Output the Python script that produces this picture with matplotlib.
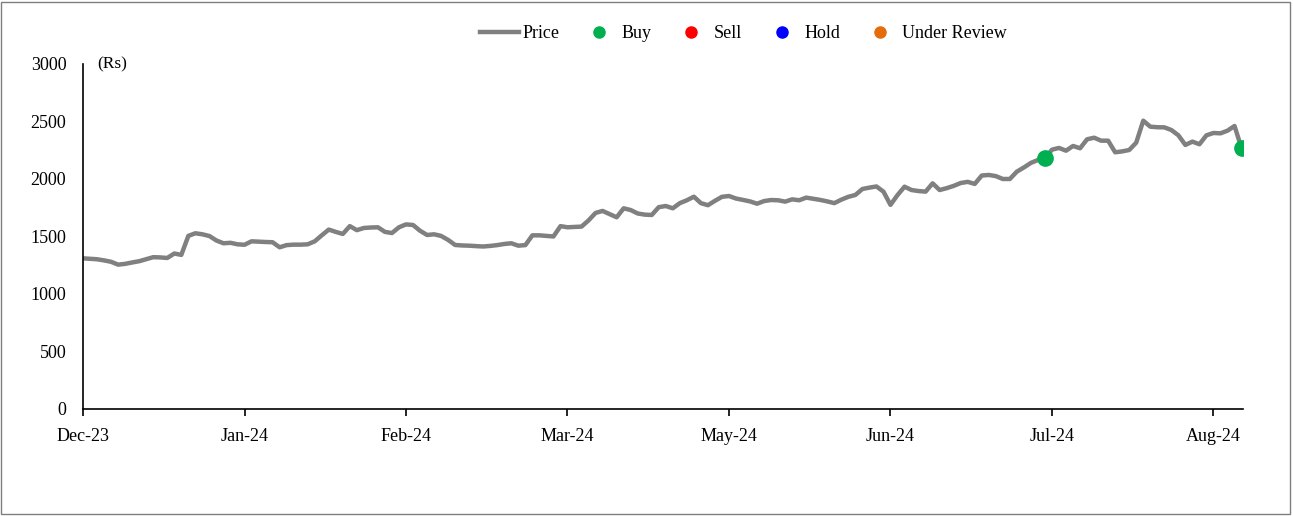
import matplotlib
matplotlib.use("Agg")
import matplotlib.pyplot as plt
from matplotlib.lines import Line2D
from matplotlib.patches import Rectangle

# daily closing price (Rs), one value per trading day
price = [
    1310, 1306, 1302, 1292, 1280, 1255, 1262, 1274, 1285, 1302,
    1320, 1318, 1313, 1352, 1340, 1505, 1528, 1519, 1504, 1465,
    1441, 1445, 1432, 1428, 1458, 1455, 1452, 1450, 1406, 1425,
    1429, 1429, 1432, 1458, 1510, 1560, 1540, 1522, 1590, 1555,
    1574, 1578, 1580, 1540, 1530, 1580, 1605, 1600, 1550, 1513,
    1519, 1505, 1470, 1426, 1422, 1420, 1416, 1413, 1418, 1425,
    1435, 1441, 1420, 1425, 1510, 1510, 1505, 1500, 1590, 1580,
    1583, 1586, 1640, 1705, 1722, 1695, 1667, 1745, 1730, 1700,
    1690, 1687, 1755, 1765, 1745, 1790, 1815, 1846, 1790, 1772,
    1810, 1845, 1852, 1830, 1818, 1805, 1785, 1808, 1817, 1815,
    1803, 1823, 1815, 1838, 1828, 1818, 1805, 1790, 1820, 1845,
    1861, 1913, 1925, 1935, 1890, 1775, 1860, 1933, 1904, 1895,
    1890, 1962, 1904, 1920, 1940, 1965, 1975, 1957, 2030, 2035,
    2025, 2000, 2000, 2064, 2100, 2140, 2165, 2180, 2255, 2270,
    2246, 2287, 2267, 2345, 2359, 2333, 2333, 2232, 2240, 2252,
    2316, 2507, 2455, 2450, 2449, 2426, 2380, 2296, 2325, 2302,
    2380, 2400, 2397, 2420, 2461, 2267,
]

# trading-day positions of the month labels
tick_days = [0, 23, 46, 69, 92, 115, 138, 161]
tick_labels = ["Dec-23", "Jan-24", "Feb-24", "Mar-24", "May-24", "Jun-24", "Jul-24", "Aug-24"]

# recommendation points (trading-day index)
buy_days = [137, 165]
sell_days = []
hold_days = []
review_days = []

SERIF = "Liberation Serif"
GREY = "#808080"
GREEN = "#00B050"
RED = "#FF0000"
BLUE = "#0000FF"
ORANGE = "#E46C0A"

plt.rcParams["font.family"] = SERIF

fig = plt.figure(figsize=(12.93, 5.16), dpi=100)
ax = fig.add_axes([0.0642, 0.2074, 0.8971, 0.6686])

days = list(range(len(price)))
ax.plot(days, price, color=GREY, lw=3.2, solid_joinstyle="round", zorder=2)

for idx_list, col in [(buy_days, GREEN), (sell_days, RED), (hold_days, BLUE), (review_days, ORANGE)]:
    if idx_list:
        ax.plot(idx_list, [price[i] for i in idx_list], ls="none", marker="o",
                ms=11, color=col, zorder=3)

ax.set_xlim(0, 165.2)
ax.set_ylim(0, 3000)
ax.set_yticks(range(0, 3001, 500))
ax.set_xticks(tick_days)
ax.set_xticklabels(tick_labels)

ax.spines["top"].set_visible(False)
ax.spines["right"].set_visible(False)
ax.spines["left"].set_linewidth(1.2)
ax.spines["bottom"].set_linewidth(1.2)
ax.tick_params(axis="y", length=0, pad=12, labelsize=13)
ax.tick_params(axis="x", length=5, width=1.2, direction="out", pad=9, labelsize=13)

ax.text(0.012, 1.0, "(Rs)", transform=ax.transAxes, fontsize=12.5, va="center", ha="left")

handles = [
    Line2D([], [], color=GREY, lw=3.2),
    Line2D([], [], ls="none", marker="o", ms=8, color=GREEN),
    Line2D([], [], ls="none", marker="o", ms=8, color=RED),
    Line2D([], [], ls="none", marker="o", ms=8, color=BLUE),
    Line2D([], [], ls="none", marker="o", ms=8, color=ORANGE),
]
fig.legend(handles, ["Price", "Buy", "Sell", "Hold", "Under Review"],
           loc="center", bbox_to_anchor=(0.575, 0.935), ncol=5, frameon=False,
           fontsize=13, handlelength=2.2, handletextpad=0.15, columnspacing=1.1)

fig.patches.append(Rectangle((0.001, 0.004), 0.997, 0.993, transform=fig.transFigure,
                             fill=False, edgecolor="#7f7f7f", lw=1))

fig.savefig("out.png", dpi=100)
